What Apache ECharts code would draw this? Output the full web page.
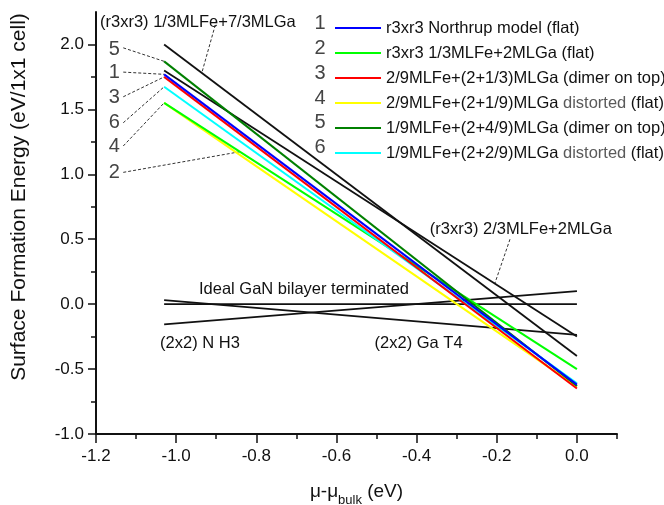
<!DOCTYPE html>
<html>
<head>
<meta charset="utf-8">
<script src="https://cdn.jsdelivr.net/npm/echarts@6/dist/echarts.min.js"></script>
<style>
  html, body { margin: 0; padding: 0; background: #fff; }
  #c { width: 664px; height: 505px; }
</style>
</head>
<body>
<div id="c"></div>
<script>
// Chemical potential range covered by every curve (eV)
const muRange = [-1.03, 0.0];

// Fe/Ga surface models (numbered 1..6)
const modelNumbers = ['1', '2', '3', '4', '5', '6'];
const modelNames = [
  'r3xr3 Northrup model (flat)',
  'r3xr3 1/3MLFe+2MLGa (flat)',
  '2/9MLFe+(2+1/3)MLGa (dimer on top)',
  '2/9MLFe+(2+1/9)MLGa distorted (flat)',
  '1/9MLFe+(2+4/9)MLGa (dimer on top)',
  '1/9MLFe+(2+2/9)MLGa distorted (flat)'
];
const modelStart = [1.77, 1.55, 1.75, 1.55, 1.87, 1.674];
const modelEnd = [-0.62, -0.50, -0.65, -0.635, -0.63, -0.61];
const modelColors = ['#0000ff', '#00ff00', '#ff0000', '#ffff00', '#008000', '#00ffff'];
// drawing order (later = on top)
const modelOrder = [3, 1, 4, 5, 2, 0];

// Reference structures drawn in black
const refNames = [
  '(r3xr3) 1/3MLFe+7/3MLGa',
  '(r3xr3) 2/3MLFe+2MLGa',
  'Ideal GaN bilayer terminated',
  '(2x2) N H3',
  '(2x2) Ga T4'
];
const refStart = [2.00, 1.80, 0.00, -0.156, 0.031];
const refEnd = [-0.40, -0.25, 0.00, 0.10, -0.236];

// Axis ticks
const xTicks = [-1.2, -1.0, -0.8, -0.6, -0.4, -0.2, 0.0];
const xMinorTicks = [-1.1, -0.9, -0.7, -0.5, -0.3, -0.1, 0.1];
const yTicks = [-1.0, -0.5, 0.0, 0.5, 1.0, 1.5, 2.0];
const yMinorTicks = [-0.75, -0.25, 0.25, 0.75, 1.25, 1.75];

// Numbered pointers on the left: label anchor, dashed-line start, and target curve
const pointerLabels = ['5', '1', '3', '6', '4', '2'];
const pointerModel = [4, 0, 2, 5, 3, 1];
const pointerLabelAt = [[-1.154, 1.962], [-1.154, 1.782], [-1.154, 1.589], [-1.154, 1.400], [-1.154, 1.212], [-1.154, 1.012]];
const pointerFrom = [[-1.132, 1.974], [-1.132, 1.787], [-1.132, 1.597], [-1.132, 1.397], [-1.132, 1.218], [-1.132, 1.015]];
const pointerTargetMu = [-1.03, -1.03, -1.03, -1.03, -1.03, -0.841];

// Text notes placed in data coordinates (left edge, vertical middle)
const noteTexts = ['(r3xr3) 1/3MLFe+7/3MLGa', '(r3xr3) 2/3MLFe+2MLGa', 'Ideal GaN bilayer terminated', '(2x2) N H3', '(2x2) Ga T4'];
const noteAt = [[-1.19, 2.166], [-0.367, 0.572], [-0.943, 0.11], [-1.04, -0.305], [-0.505, -0.305]];
// dashed leaders for the two r3xr3 reference lines: [from, target mu on ref line]
const leaderRef = [0, 1];
const leaderFrom = [[-0.899, 2.187], [-0.167, 0.50]];
const leaderTargetMu = [-0.936, -0.205];

const FONT = '"Liberation Sans", Arial, sans-serif';

function onLine(start, end, mu) {
  const t = (mu - muRange[0]) / (muRange[1] - muRange[0]);
  return start + (end - start) * t;
}

const series = [];
refNames.forEach((name, i) => {
  series.push({
    name: name,
    type: 'line',
    showSymbol: false,
    silent: true,
    lineStyle: { color: '#111', width: 1.8 },
    itemStyle: { color: '#111' },
    data: [[muRange[0], refStart[i]], [muRange[1], refEnd[i]]]
  });
});
modelOrder.forEach(i => {
  series.push({
    name: modelNames[i],
    type: 'line',
    showSymbol: false,
    silent: true,
    lineStyle: { color: modelColors[i], width: 2 },
    itemStyle: { color: modelColors[i] },
    data: [[muRange[0], modelStart[i]], [muRange[1], modelEnd[i]]]
  });
});

const axisColor = '#111';
const option = {
  animation: false,
  backgroundColor: '#fff',
  grid: { left: 96, right: 47, top: 12, bottom: 71, containLabel: false },
  legend: {
    data: modelNames,
    orient: 'vertical',
    left: 330,
    top: 14,
    icon: 'rect',
    itemWidth: 46,
    itemHeight: 2,
    itemGap: 7,
    selectedMode: false,
    textStyle: {
      fontFamily: FONT, fontSize: 16.5, color: '#111', lineHeight: 18,
      rich: { g: { fontFamily: FONT, fontSize: 16.5, color: '#5a5a5a', lineHeight: 18 } }
    },
    formatter: name => name.replace('distorted', '{g|distorted}')
  },
  xAxis: [
    {
      type: 'value', min: -1.2, max: 0.1, interval: 0.1,
      splitLine: { show: false },
      axisLine: { show: true, onZero: false, lineStyle: { color: axisColor, width: 2 } },
      axisTick: { show: true, customValues: xTicks, length: 9, lineStyle: { color: axisColor, width: 1.5 } },
      axisLabel: {
        customValues: xTicks, margin: 14, color: '#111', fontFamily: FONT, fontSize: 17,
        formatter: v => v.toFixed(1)
      }
    },
    {
      type: 'value', min: -1.2, max: 0.1, interval: 0.1, position: 'bottom',
      splitLine: { show: false },
      axisLine: { show: false, onZero: false },
      axisTick: { show: true, customValues: xMinorTicks, length: 5, lineStyle: { color: axisColor, width: 1.5 } },
      axisLabel: { show: false }
    }
  ],
  yAxis: [
    {
      type: 'value', min: -1.0, max: 2.25, interval: 0.25,
      splitLine: { show: false },
      axisLine: { show: true, onZero: false, lineStyle: { color: axisColor, width: 2 } },
      axisTick: { show: true, customValues: yTicks, length: 8, lineStyle: { color: axisColor, width: 1.5 } },
      axisLabel: {
        customValues: yTicks, margin: 12, color: '#111', fontFamily: FONT, fontSize: 17,
        formatter: v => v.toFixed(1)
      }
    },
    {
      type: 'value', min: -1.0, max: 2.25, interval: 0.25, position: 'left',
      splitLine: { show: false },
      axisLine: { show: false, onZero: false },
      axisTick: { show: true, customValues: yMinorTicks, length: 5, lineStyle: { color: axisColor, width: 1.5 } },
      axisLabel: { show: false }
    }
  ],
  series: series
};

const chart = echarts.init(document.getElementById('c'), null, { renderer: 'canvas' });
chart.setOption(option);

const toPx = p => chart.convertToPixel({ xAxisIndex: 0, yAxisIndex: 0 }, p);
const dashStyle = { stroke: '#333', lineWidth: 1, lineDash: [3, 2] };
const graphics = [];

// numbered pointers at the left end of the curves
pointerLabels.forEach((lab, i) => {
  const m = pointerModel[i];
  const mu = pointerTargetMu[i];
  const target = [mu, onLine(modelStart[m], modelEnd[m], mu)];
  const a = toPx(pointerFrom[i]);
  const b = toPx(target);
  graphics.push({ type: 'line', silent: true, shape: { x1: a[0], y1: a[1], x2: b[0], y2: b[1] }, style: dashStyle });
  const p = toPx(pointerLabelAt[i]);
  graphics.push({
    type: 'text', silent: true, x: p[0], y: p[1],
    style: { text: lab, fontFamily: FONT, fontSize: 20, fill: '#444', align: 'center', verticalAlign: 'middle' }
  });
});

// leaders for the black r3xr3 lines
leaderRef.forEach((r, i) => {
  const mu = leaderTargetMu[i];
  const a = toPx(leaderFrom[i]);
  const b = toPx([mu, onLine(refStart[r], refEnd[r], mu)]);
  graphics.push({ type: 'line', silent: true, shape: { x1: a[0], y1: a[1], x2: b[0], y2: b[1] }, style: dashStyle });
});

// text notes
noteTexts.forEach((t, i) => {
  const p = toPx(noteAt[i]);
  graphics.push({
    type: 'text', silent: true, x: p[0], y: p[1],
    style: { text: t, fontFamily: FONT, fontSize: 16.5, fill: '#111', align: 'left', verticalAlign: 'middle' }
  });
});

// legend numbers
modelNumbers.forEach((n, i) => {
  graphics.push({
    type: 'text', silent: true, x: 320, y: 23.3 + 24.9 * i,
    style: { text: n, fontFamily: FONT, fontSize: 20, fill: '#444', align: 'center', verticalAlign: 'middle' }
  });
});

// axis titles
graphics.push({
  type: 'text', silent: true, x: 19, y: 197, rotation: Math.PI / 2,
  style: { text: 'Surface Formation Energy (eV/1x1 cell)', fontFamily: FONT, fontSize: 21, fill: '#111', align: 'center', verticalAlign: 'middle' }
});
graphics.push({
  type: 'text', silent: true, x: 356.5, y: 490,
  style: {
    text: '{m|μ-μ}{s|bulk}{m| (eV)}', align: 'center', verticalAlign: 'middle',
    rich: {
      m: { fontFamily: FONT, fontSize: 19, fill: '#111', verticalAlign: 'bottom', lineHeight: 22 },
      s: { fontFamily: FONT, fontSize: 13, fill: '#111', verticalAlign: 'bottom', lineHeight: 22, padding: [0, 0, -6, 0] }
    }
  }
});

chart.setOption({ graphic: graphics });
</script>
</body>
</html>
